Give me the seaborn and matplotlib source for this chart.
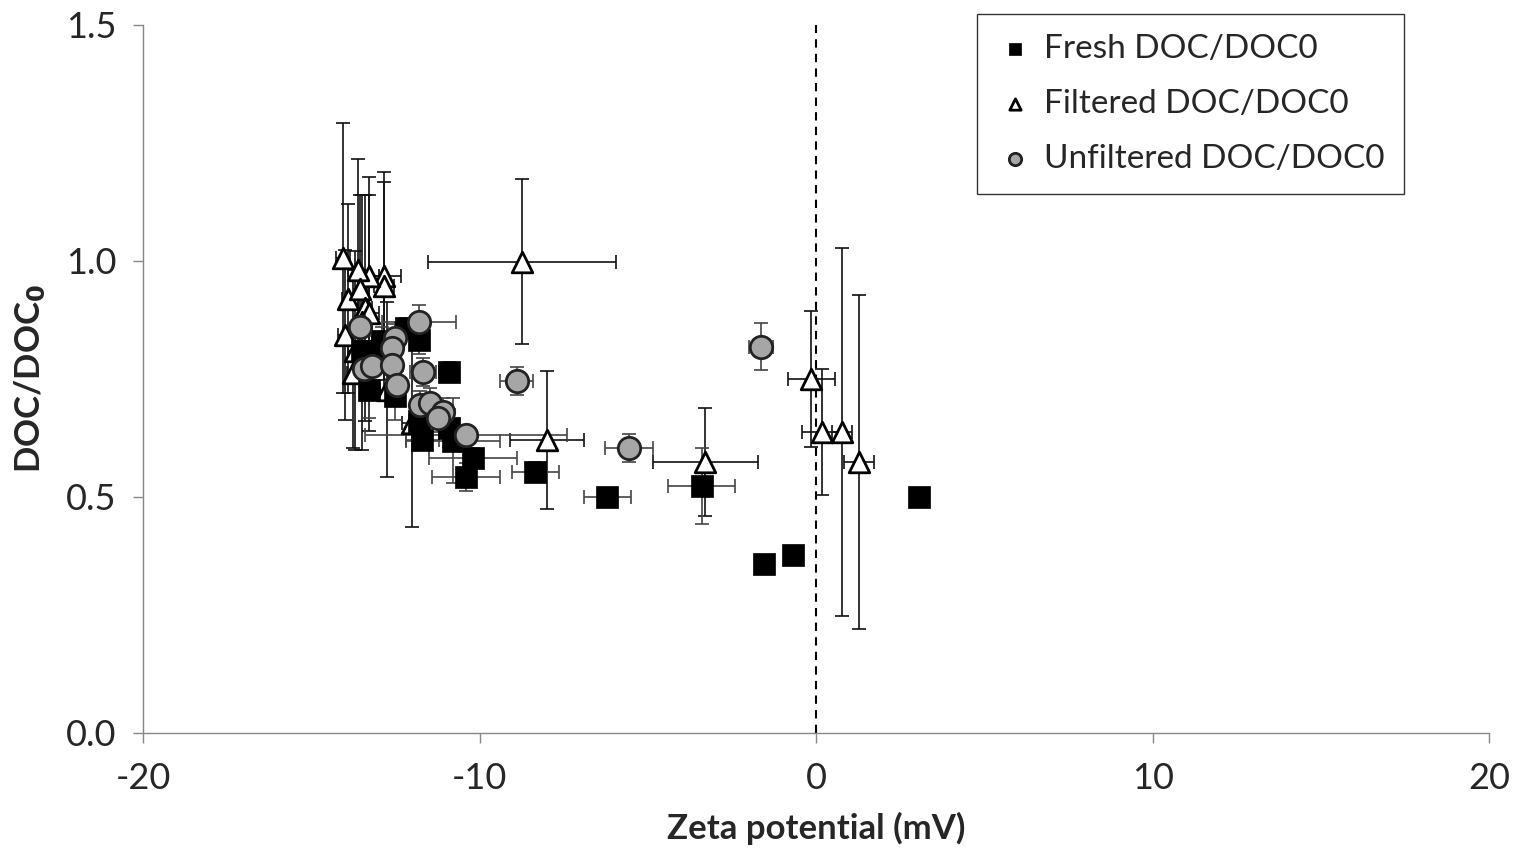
import numpy as np
import pandas as pd
import seaborn as sns
import matplotlib.pyplot as plt

# Fresh DOC/DOC0 (black squares)
fresh_x = [-13.5, -13.2, -13.3, -12.9, -12.5, -12.2, -11.8, -10.9, -11.8, -11.7, -10.9, -10.8,
           -10.2, -10.4, -8.35, -6.2, -3.4, -1.55, -0.7, 3.06]
fresh_y = [0.81, 0.81, 0.727, 0.83, 0.714, 0.858, 0.833, 0.765, 0.66, 0.62, 0.646, 0.619,
           0.583, 0.542, 0.553, 0.50, 0.523, 0.358, 0.377, 0.50]
fresh_xerr = [0.2, 0.2, 0.2, 0.2, 0.2, 0.3, 0.2, 0.3, 0.3, 0.5, 0.3, 1.4,
              1.3, 1.0, 0.7, 0.7, 1.0, 0, 0, 0]
fresh_yerr = [0.03, 0.03, 0.06, 0.03, 0.05, 0.02, 0.03, 0.02, 0.05, 0.02, 0.04, 0.09,
              0.02, 0.03, 0.02, 0.01, 0.08, 0, 0, 0]

# Filtered DOC/DOC0 (open triangles)
filt_x = [-14.06, -8.74, -12.84, -12.84, -13.3, -13.6, -13.9, -13.55, -13.4, -14.0, -13.7,
          -13.75, -12.75, -12.0, -8.0, -3.3, -0.15, 0.18, 0.77, 1.28, -13.3, -13.5]
filt_y = [1.006, 0.998, 0.968, 0.947, 0.968, 0.98, 0.92, 0.94, 0.90, 0.843, 0.81,
          0.763, 0.727, 0.657, 0.621, 0.574, 0.75, 0.638, 0.638, 0.574, 0.89, 0.87]
filt_xerr = [0.2, 2.8, 0.5, 0.3, 0.3, 0.3, 0.2, 0.2, 0.2, 0.2, 0.2,
             0.2, 0.2, 0.3, 1.1, 1.56, 0.7, 0.6, 0.3, 0.45, 0.3, 0.2]
filt_yerr = [0.285, 0.175, 0.22, 0.22, 0.21, 0.236, 0.2, 0.2, 0.24, 0.18, 0.21,
             0.16, 0.185, 0.22, 0.146, 0.115, 0.144, 0.134, 0.39, 0.354, 0.25, 0.27]

# Unfiltered DOC/DOC0 (grey circles)
unf_x = [-13.55, -13.43, -13.2, -12.5, -12.6, -12.6, -12.45, -11.8, -11.68, -11.77, -11.47,
         -11.1, -11.23, -10.4, -8.9, -5.56, -1.63]
unf_y = [0.86, 0.771, 0.778, 0.837, 0.816, 0.78, 0.737, 0.871, 0.765, 0.695, 0.70,
         0.68, 0.667, 0.631, 0.746, 0.604, 0.818]
unf_xerr = [0.2, 0.2, 0.2, 0.2, 0.2, 0.2, 0.2, 1.1, 0.4, 0.2, 0.2,
            0.3, 0.3, 3.0, 0.5, 0.7, 0.35]
unf_yerr = [0.03, 0.03, 0.03, 0.03, 0.03, 0.03, 0.03, 0.035, 0.03, 0.03, 0.03,
            0.03, 0.03, 0.02, 0.03, 0.03, 0.05]

sns.set_style("white")
plt.rcParams['font.family'] = ['Lato', 'DejaVu Sans']
plt.rcParams['mathtext.default'] = 'regular'
plt.rcParams['axes.unicode_minus'] = False

fig = plt.figure(figsize=(15.15, 8.56), dpi=100)
ax = fig.add_axes([0.0944, 0.1437, 0.8886, 0.8273])

# error bars first
ax.errorbar(filt_x, filt_y, xerr=filt_xerr, yerr=filt_yerr, fmt='none',
            ecolor='#111111', elinewidth=1.2, capsize=5, capthick=1.2, zorder=1)
ax.errorbar(fresh_x, fresh_y, xerr=fresh_xerr, yerr=fresh_yerr, fmt='none',
            ecolor='#444444', elinewidth=1.2, capsize=5, capthick=1.2, zorder=1)
ax.errorbar(unf_x, unf_y, xerr=unf_xerr, yerr=unf_yerr, fmt='none',
            ecolor='#444444', elinewidth=1.2, capsize=5, capthick=1.2, zorder=1)

fresh = pd.DataFrame({"x": fresh_x, "y": fresh_y})
filt = pd.DataFrame({"x": filt_x, "y": filt_y})
unf = pd.DataFrame({"x": unf_x, "y": unf_y})

sns.scatterplot(data=filt, x="x", y="y", marker="^", s=220, color="white",
                edgecolor="black", linewidth=2.0, ax=ax, zorder=2, label="Filtered DOC/DOC0")
sns.scatterplot(data=fresh, x="x", y="y", marker="s", s=230, color="black",
                edgecolor="black", linewidth=0.5, ax=ax, zorder=3, label="Fresh DOC/DOC0")
sns.scatterplot(data=unf, x="x", y="y", marker="o", s=260, color="#a6a6a6",
                edgecolor="#222222", linewidth=2.0, ax=ax, zorder=4, label="Unfiltered DOC/DOC0")

ax.axvline(0, color="black", linestyle=(0, (4, 3)), linewidth=1.5, zorder=0)

ax.set_xlim(-20, 20)
ax.set_ylim(0, 1.5)
ax.set_xticks([-20, -10, 0, 10, 20])
ax.set_yticks([0, 0.5, 1.0, 1.5])
ax.set_yticklabels(["0.0", "0.5", "1.0", "1.5"])
ax.tick_params(axis='both', labelsize=26, length=7, width=1, color='#888888',
               direction='out', bottom=True, left=True)
ax.tick_params(axis='x', pad=14)
ax.tick_params(axis='y', pad=12)
for side in ['top', 'right']:
    ax.spines[side].set_visible(False)
for side in ['left', 'bottom']:
    ax.spines[side].set_color('#888888')
    ax.spines[side].set_linewidth(1)

ax.set_xlabel("Zeta potential (mV)", fontsize=25, fontweight='bold', labelpad=12)
ax.set_ylabel(r"DOC/DOC$_\mathbf{0}$", fontsize=25, fontweight='bold', labelpad=14)

handles, labels = ax.get_legend_handles_labels()
order = [1, 0, 2]
leg = ax.legend([handles[i] for i in order], [labels[i] for i in order],
                loc='upper left', bbox_to_anchor=(977 / 1515, 1 - 14 / 856),
                bbox_transform=fig.transFigure, borderaxespad=0, fontsize=24,
                markerscale=0.55, frameon=True, fancybox=False, edgecolor='black',
                handletextpad=0.3, handlelength=1.1, labelspacing=0.75, borderpad=0.6)
leg.get_frame().set_linewidth(1)

fig.savefig("out.png", dpi=100)
